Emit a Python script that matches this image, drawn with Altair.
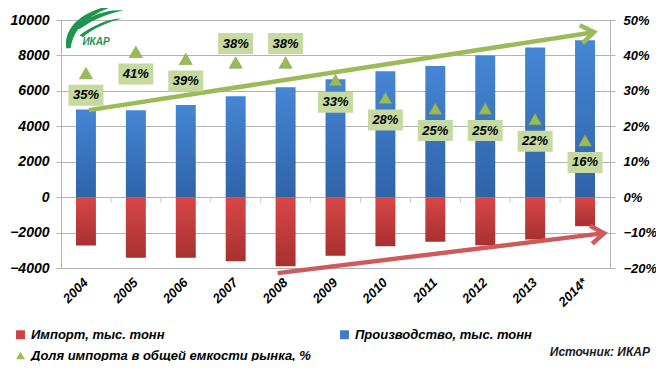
import altair as alt
import pandas as pd

years = ["2004", "2005", "2006", "2007", "2008", "2009", "2010", "2011", "2012", "2013", "2014*"]
production = [4950, 4900, 5200, 5700, 6200, 6650, 7100, 7400, 8000, 8450, 8850]
imports = [-2730, -3420, -3420, -3620, -3900, -3310, -2770, -2520, -2710, -2390, -1640]
share = [35, 41, 39, 38, 38, 33, 28, 25, 25, 22, 16]
label_pos = ["below", "below", "below", "above", "above", "below", "below", "below", "below", "below", "below"]

series_names = ["Импорт, тыс. тонн", "Производство, тыс. тонн", "Доля импорта в общей емкости рынка, %"]
series_colors = ["#cc4343", "#3f7bc8", "#9bbb59"]
series_shapes = ["square", "square", "triangle-up"]

left_ticks = [-4000, -2000, 0, 2000, 4000, 6000, 8000, 10000]
right_ticks = [-0.2, -0.1, 0.0, 0.1, 0.2, 0.3, 0.4, 0.5]

# trend arrows (category + value endpoints)
green_arrow_x = ["2004", "2014*"]
green_arrow_y = [4911, 9314]
red_arrow_x = ["2008", "2014*"]
red_arrow_y = [-4290, -2032]

source_text = ["Источник: ИКАР"]
logo_text = ["ИКАР"]

FONT = "Liberation Sans"
GRID = "#b3b3b3"

df = pd.DataFrame({
    "year": years,
    "production": production,
    "imports": imports,
    "share": [s / 100 for s in share],
    "label": [f"{s}%" for s in share],
    "pos": label_pos,
    "series": [series_names[2]] * len(years),
})

xenc = alt.X("year:N", sort=years, title=None,
             scale=alt.Scale(paddingInner=0.6, paddingOuter=0.3),
             axis=alt.Axis(labelAngle=-45, labelAlign="right", labelBaseline="middle",
                           labelPadding=12, ticks=False, domain=True, domainColor=GRID,
                           labelFont=FONT, labelFontSize=13, labelFontWeight="bold",
                           labelFontStyle="italic", labelColor="black", grid=False))

yscale_left = alt.Scale(domain=[-4000, 10000], nice=False, zero=False)
yscale_right = alt.Scale(domain=[-0.2, 0.5], nice=False, zero=False)

left_axis = alt.Axis(orient="left", values=left_ticks, format="d", labelOverlap=False,
                     grid=True, gridColor=GRID,
                     domainColor=GRID, tickColor=GRID, tickSize=5, labelPadding=7,
                     labelFont=FONT, labelFontSize=14, labelFontWeight="bold",
                     labelFontStyle="italic", labelColor="black", title=None)
right_axis = alt.Axis(orient="right", values=right_ticks, format=".0%", labelOverlap=False,
                      grid=False,
                      domainColor=GRID, tickColor=GRID, tickSize=5, labelPadding=8,
                      labelFont=FONT, labelFontSize=13, labelFontWeight="bold",
                      labelFontStyle="italic", labelColor="black", title=None)

blue_grad = alt.LinearGradient(gradient="linear", x1=0, x2=0, y1=0, y2=1,
                               stops=[alt.GradientStop(offset=0, color="#4586d4"),
                                      alt.GradientStop(offset=1, color="#2f63a8")])
red_grad = alt.LinearGradient(gradient="linear", x1=0, x2=0, y1=0, y2=1,
                              stops=[alt.GradientStop(offset=0, color="#d84747"),
                                     alt.GradientStop(offset=1, color="#a83030")])

base = alt.Chart(df)

prod_bars = base.mark_bar(color=blue_grad).encode(
    x=xenc, y=alt.Y("production:Q", scale=yscale_left, axis=left_axis))
imp_bars = base.mark_bar(color=red_grad).encode(
    x=xenc, y=alt.Y("imports:Q", scale=yscale_left, axis=left_axis))
zero_ticks = base.transform_filter(alt.datum.year != years[-1]).mark_tick(
    orient="vertical", size=5, thickness=1, color=GRID, xOffset=25, yOffset=3).encode(
    x=xenc, y=alt.Y(datum=0, type="quantitative", scale=yscale_left, axis=left_axis))

gdf = pd.DataFrame({"x1": [green_arrow_x[0]], "x2": [green_arrow_x[1]],
                    "y1": [green_arrow_y[0]], "y2": [green_arrow_y[1]]})
rdf = pd.DataFrame({"x1": [red_arrow_x[0]], "x2": [red_arrow_x[1]],
                    "y1": [red_arrow_y[0]], "y2": [red_arrow_y[1]]})

x1enc = alt.X("x1:N", sort=years, title=None)
x2enc = alt.X("x2:N", sort=years, title=None)
y1enc = alt.Y("y1:Q", scale=yscale_left, axis=left_axis)
y2enc = alt.Y("y2:Q", scale=yscale_left, axis=left_axis)

green_line = alt.Chart(gdf).mark_rule(color="#9bbb59", strokeWidth=4.5, xOffset=3, x2Offset=9).encode(
    x=x1enc, x2="x2:N", y=y1enc, y2="y2:Q")
green_head = alt.Chart(gdf).mark_point(
    shape="M-1,-0.7L0,0L-1,0.7", filled=False, stroke="#9bbb59", strokeWidth=4.5,
    size=676, angle=351, xOffset=9, opacity=1, strokeJoin="miter").encode(
    x=x2enc, y=y2enc)
red_line = alt.Chart(rdf).mark_rule(color="#cd5b5b", strokeWidth=4.5, xOffset=-8, x2Offset=19).encode(
    x=x1enc, x2="x2:N", y=y1enc, y2="y2:Q")
red_head = alt.Chart(rdf).mark_point(
    shape="M-1,-0.7L0,0L-1,0.7", filled=False, stroke="#cd5b5b", strokeWidth=4.5,
    size=676, angle=353, xOffset=19, opacity=1, strokeJoin="miter").encode(
    x=x2enc, y=y2enc)

src = alt.Chart(pd.DataFrame({"t": source_text})).mark_text(
    font=FONT, fontSize=12, fontWeight="bold", fontStyle="italic", color="#1a1a1a",
    align="right", baseline="middle").encode(
    x=alt.value(589), y=alt.value(332), text="t:N")

logo_shape = alt.Chart(pd.DataFrame({"t": logo_text})).mark_point(
    shape=("M-0.95,0.8 C-1.05,0.1 -0.45,-0.55 1,-0.75 C-0.2,-0.4 -0.7,0.1 -0.8,0.8 Z "
           "M-0.62,0.1 C-0.2,-0.3 0.4,-0.55 1,-0.5 C0.4,-0.38 -0.1,-0.15 -0.5,0.15 Z "
           "M-0.5,0.35 C0,0 0.5,-0.22 0.95,-0.22 C0.5,-0.1 0,0.1 -0.38,0.42 Z"),
    filled=True, fill="#1e9650", strokeWidth=0, size=3400, opacity=1).encode(
    x=alt.value(33), y=alt.value(5))
logo_lbl = alt.Chart(pd.DataFrame({"t": logo_text})).mark_text(
    font=FONT, fontSize=10, fontWeight="bold", fontStyle="italic", color="#1e9650",
    align="center", baseline="middle").encode(
    x=alt.value(35), y=alt.value(22), text="t:N")

yshare = alt.Y("share:Q", scale=yscale_right, axis=right_axis)

triangles = base.mark_point(filled=True, size=170, opacity=1, stroke="#7f9e45", strokeWidth=0.6).encode(
    x=xenc, y=yshare,
    color=alt.Color("series:N", scale=alt.Scale(domain=series_names, range=series_colors),
                    legend=alt.Legend(orient="none", legendX=-47, legendY=308, columns=2,
                                      direction="horizontal",
                                      columnPadding=27, rowPadding=7, symbolSize=80,
                                      labelFont=FONT, labelFontSize=13, labelFontWeight="bold",
                                      labelFontStyle="italic", labelColor="black",
                                      labelLimit=400, labelOffset=4, title=None,
                                      symbolStrokeWidth=0)),
    shape=alt.Shape("series:N", scale=alt.Scale(domain=series_names, range=series_shapes)))

BOX = "M-1,-0.6L1,-0.6L1,0.6L-1,0.6Z"
boxes_below = base.transform_filter(alt.datum.pos == "below").mark_point(
    shape=BOX, filled=True, fill="#c5d9a0", strokeWidth=0, size=1225, opacity=1, yOffset=22).encode(
    x=xenc, y=yshare)
boxes_above = base.transform_filter(alt.datum.pos == "above").mark_point(
    shape=BOX, filled=True, fill="#c5d9a0", strokeWidth=0, size=1225, opacity=1, yOffset=-19).encode(
    x=xenc, y=yshare)
txt_below = base.transform_filter(alt.datum.pos == "below").mark_text(
    font=FONT, fontSize=13, fontWeight="bold", fontStyle="italic", color="black",
    baseline="middle", yOffset=22).encode(x=xenc, y=yshare, text="label:N")
txt_above = base.transform_filter(alt.datum.pos == "above").mark_text(
    font=FONT, fontSize=13, fontWeight="bold", fontStyle="italic", color="black",
    baseline="middle", yOffset=-19).encode(x=xenc, y=yshare, text="label:N")

left = alt.layer(prod_bars, imp_bars, zero_ticks, green_line, green_head, red_line, red_head,
                 src, logo_shape, logo_lbl)
right = alt.layer(triangles, boxes_below, boxes_above, txt_below, txt_above)

chart = alt.layer(left, right).resolve_scale(y="independent").properties(
    width=549, height=248,
    autosize=alt.AutoSizeParams(type="none"),
    padding={"left": 53, "top": 12, "right": 46, "bottom": 93},
).configure_view(stroke=None).configure(background="white")

chart.save("out.html", embed_options={"renderer": "svg", "actions": False})
